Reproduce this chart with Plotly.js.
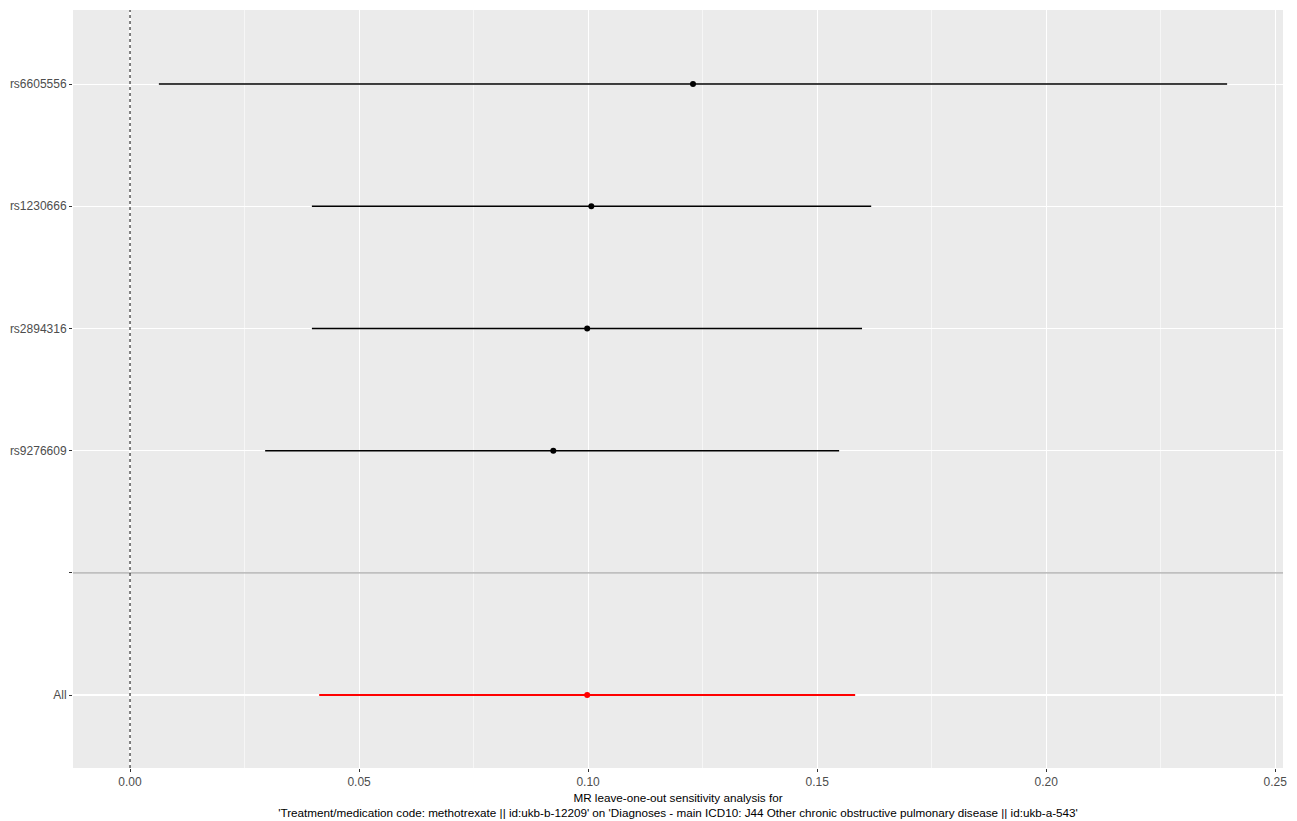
<!DOCTYPE html>
<html>
<head>
<meta charset="utf-8">
<script src="https://cdn.plot.ly/plotly-3.0.1.min.js"></script>
<style>html,body{margin:0;padding:0;background:#fff;}#chart{width:1297px;height:821px;}</style>
</head>
<body>
<div id="chart"></div>
<script>
// Data (top to bottom order as displayed)
const snps = ["rs6605556", "rs1230666", "rs2894316", "rs9276609"];
const snpEstimate = [0.1229, 0.1007, 0.0998, 0.0924];
const snpLower = [0.0063, 0.0397, 0.0397, 0.0295];
const snpUpper = [0.2395, 0.1618, 0.1598, 0.1548];
const allLabel = "All";
const allEstimate = [0.0998];
const allLower = [0.0413];
const allUpper = [0.1583];
const xTickVals = [0.00, 0.05, 0.10, 0.15, 0.20, 0.25];
const xTickText = ["0.00", "0.05", "0.10", "0.15", "0.20", "0.25"];

// Row positions: All = 1, blank separator = 2, SNPs above
const nS = snps.length;
const snpPos = snps.map((s, i) => 2 + nS - i);
const tickVals = [1, 2].concat(snpPos);
const tickText = [allLabel, ""].concat(snps);

const traces = [
  {
    type: "scatter", mode: "markers",
    x: snpEstimate, y: snpPos,
    marker: {color: "#000000", size: 6},
    error_x: {type: "data", symmetric: false,
      array: snpEstimate.map((e, i) => snpUpper[i] - e),
      arrayminus: snpEstimate.map((e, i) => e - snpLower[i]),
      width: 0, thickness: 1.5, color: "#000000"},
    hoverinfo: "x+y", showlegend: false
  },
  {
    type: "scatter", mode: "markers",
    x: allEstimate, y: [1],
    marker: {color: "#FF0000", size: 6},
    error_x: {type: "data", symmetric: false,
      array: allEstimate.map((e, i) => allUpper[i] - e),
      arrayminus: allEstimate.map((e, i) => e - allLower[i]),
      width: 0, thickness: 2, color: "#FF0000"},
    hoverinfo: "x+y", showlegend: false
  }
];

const layout = {
  width: 1297, height: 821,
  margin: {l: 73, r: 14, t: 10, b: 53},
  paper_bgcolor: "#FFFFFF",
  plot_bgcolor: "#EBEBEB",
  font: {family: "Liberation Sans, Arial, sans-serif", size: 12, color: "#4D4D4D"},
  xaxis: {
    range: [-0.01245, 0.2517],
    tickvals: xTickVals, ticktext: xTickText,
    showgrid: true, gridcolor: "#FFFFFF", gridwidth: 1.1,
    zeroline: false, showline: false,
    ticks: "outside", ticklen: 3, tickcolor: "#333333", tickwidth: 1,
    tickfont: {size: 12, color: "#4D4D4D"},
    minor: {dtick: 0.025, tick0: 0, showgrid: true, gridcolor: "#FFFFFF", gridwidth: 0.55, ticks: ""},
    title: {
      text: "MR leave-one-out sensitivity analysis for<br>'Treatment/medication code: methotrexate || id:ukb-b-12209' on 'Diagnoses - main ICD10: J44 Other chronic obstructive pulmonary disease || id:ukb-a-543'",
      font: {size: 11.7, color: "#000000"}, standoff: 5
    }
  },
  yaxis: {
    range: [0.403, 6.606],
    tickvals: tickVals, ticktext: tickText,
    showgrid: true, gridcolor: "#FFFFFF", gridwidth: 1.1,
    zeroline: false, showline: false,
    ticks: "outside", ticklen: 3, tickcolor: "#333333", tickwidth: 1,
    tickfont: {size: 12, color: "#4D4D4D"}
  },
  shapes: [
    {type: "line", xref: "paper", yref: "y", x0: 0, x1: 1, y0: 2, y1: 2,
     line: {color: "#AAAAAA", width: 1.2}, layer: "above"},
    {type: "line", xref: "x", yref: "paper", x0: 0, x1: 0, y0: 0, y1: 1,
     line: {color: "#000000", width: 1, dash: "dot"}, layer: "above"}
  ]
};

Plotly.newPlot("chart", traces, layout, {displayModeBar: false, staticPlot: true});
</script>
</body>
</html>
